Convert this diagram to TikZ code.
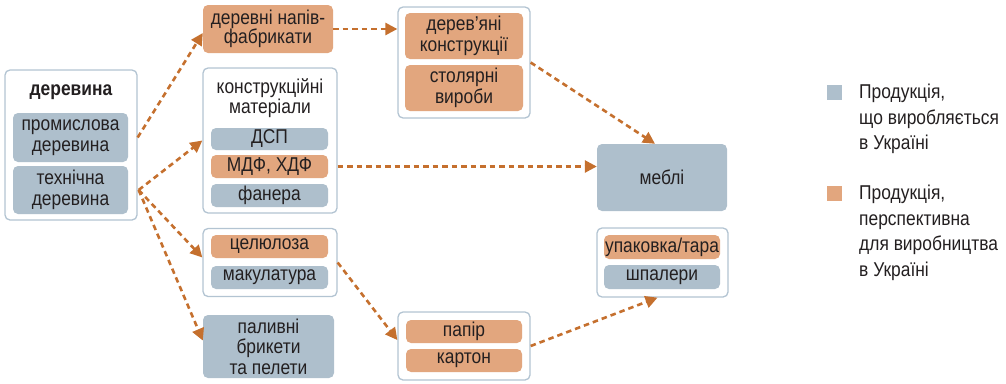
\documentclass[tikz,border=0pt]{standalone}
\usepackage{fontspec}
\setmainfont{Liberation Sans}[FakeStretch=0.87]
\usetikzlibrary{arrows.meta}
\definecolor{bluef}{HTML}{AEBFCC}
\definecolor{oranf}{HTML}{E2A67E}
\definecolor{bordc}{HTML}{B3C4D2}
\definecolor{arrc}{HTML}{C5702E}
\definecolor{txt}{HTML}{231F20}
\begin{document}
\begin{tikzpicture}[x=1pt,y=-1pt,
  outer/.style={draw=bordc, line width=1.3pt, rounded corners=5pt, fill=white, inner sep=0pt},
  bx/.style={rounded corners=5pt, inner sep=0pt, text=txt, align=center, font=\fontsize{20}{20.5}\selectfont},
  bl/.style={bx, fill=bluef},
  orf/.style={bx, fill=oranf},
  lbl/.style={inner sep=0pt, text=txt, align=center, font=\fontsize{20}{20.5}\selectfont},
  arr/.style={draw=arrc, line width=2.6pt, dash pattern=on 5.5pt off 4pt, -{Triangle[length=12pt,width=12pt]}},
  leg/.style={inner sep=0pt, text=txt, align=left, font=\fontsize{20}{25.5}\selectfont}]
\useasboundingbox (0,0) rectangle (1006,383);
% wood
\node[outer, minimum width=132pt, minimum height=150pt] (derev) at (71,145) {};
\node[lbl, font=\fontsize{20}{20}\selectfont\bfseries] (dtitle) at (71,92) {деревина};
\node[bl, minimum width=115pt, minimum height=49pt] (prom) at (70.5,137.5) {промислова\\деревина};
\node[bl, minimum width=115pt, minimum height=48pt] (tech) at (70.5,190) {технічна\\деревина};
% column 2
\node[orf, minimum width=130pt, minimum height=48pt, font=\fontsize{20}{19}\selectfont] (napiv) at (268,29) {деревні напів-\\фабрикати};
\node[outer, minimum width=134pt, minimum height=145pt] (konstr) at (270,140.5) {};
\node[lbl] (ktitle) at (270,98) {конструкційні\\матеріали};
\node[bl, minimum width=117pt, minimum height=22pt] (dsp) at (269.5,139) {ДСП};
\node[orf, minimum width=117pt, minimum height=23pt] (mdf) at (269.5,166.5) {МДФ, ХДФ};
\node[bl, minimum width=117pt, minimum height=23pt] (fanera) at (269.5,195.5) {фанера};
\node[outer, minimum width=134pt, minimum height=68pt] (celbox) at (270,262.5) {};
\node[orf, minimum width=117pt, minimum height=23pt] (cel) at (269.5,246.5) {целюлоза};
\node[bl, minimum width=117pt, minimum height=23pt] (makul) at (269.5,277.5) {макулатура};
\node[bl, minimum width=131pt, minimum height=63pt] (palyv) at (268.5,346.5) {паливні\\брикети\\та пелети};
% column 3
\node[outer, minimum width=132pt, minimum height=111pt] (dkbox) at (464,62.5) {};
\node[orf, minimum width=118pt, minimum height=46pt] (dk1) at (464,36) {дерев’яні\\конструкції};
\node[orf, minimum width=118pt, minimum height=46pt] (dk2) at (464,88) {столярні\\вироби};
\node[outer, minimum width=132pt, minimum height=68pt] (pkbox) at (464,346) {};
\node[orf, minimum width=116pt, minimum height=23pt] (papir) at (464,331.5) {папір};
\node[orf, minimum width=116pt, minimum height=23pt] (karton) at (464,360.5) {картон};
% column 4
\node[bl, minimum width=130pt, minimum height=67pt] (mebli) at (662,177.5) {меблі};
\node[outer, minimum width=131pt, minimum height=69pt] (upbox) at (662.5,262.5) {};
\node[orf, minimum width=116pt, minimum height=24pt] (up1) at (662,247) {упаковка/тара};
\node[bl, minimum width=116pt, minimum height=24pt] (shp) at (662,277) {шпалери};
% legend
\node[fill=bluef, minimum width=15pt, minimum height=15pt, inner sep=0pt] (lsq1) at (834.5,92.5) {};
\node[fill=oranf, minimum width=15pt, minimum height=15pt, inner sep=0pt] (lsq2) at (834.5,193.5) {};
\node[leg, anchor=north west] (leg1) at (859,84) {Продукція,\\що виробляється\\в Україні};
\node[leg, anchor=north west] (leg2) at (859,185) {Продукція,\\перспективна\\для виробництва\\в Україні};
% connectors
\coordinate (psrc) at (derev.east |- prom);
\coordinate (tsrc) at ([xshift=1pt]derev.east |- tech);
\draw[arr] (psrc) -- ([yshift=-4pt]napiv.west);
\draw[arr] (tsrc) -- (konstr.west);
\draw[arr] (tsrc) -- ([yshift=5pt]celbox.west);
\draw[arr] (tsrc) -- ([yshift=6pt]palyv.west);
\draw[arr] (napiv.east) -- (napiv.east -| dkbox.west);
\draw[arr] (dkbox.east) -- ([xshift=-7pt]mebli.north);
\draw[arr] (konstr.east |- mdf) -- (mebli.west |- mdf);
\draw[arr] (celbox.east) -- ([yshift=6pt]pkbox.west);
\draw[arr] (pkbox.east) -- ([xshift=-5pt]upbox.south);
\end{tikzpicture}
\end{document}
